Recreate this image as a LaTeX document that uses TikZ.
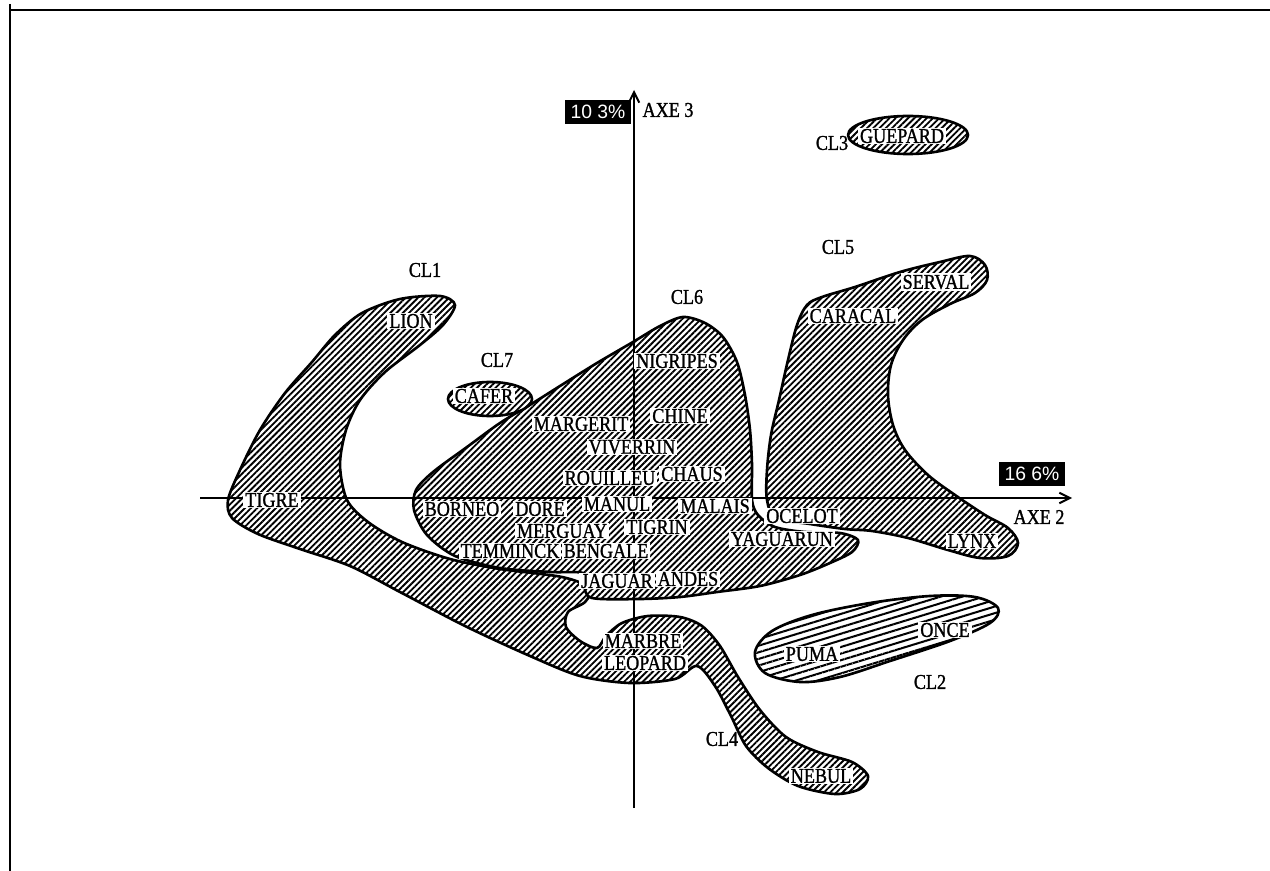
\documentclass[tikz,border=0pt]{standalone}
\usepackage{fontspec}
\setmainfont{Liberation Serif}[FakeStretch=0.86,FakeBold=1.2]
\newfontfamily\pctfont{Liberation Sans}
\usetikzlibrary{patterns.meta,arrows.meta}
\newcommand\lbfont{\fontsize{12}{12}\selectfont}
\begin{document}
\begin{tikzpicture}[x=0.02cm,y=-0.02cm,
  blob/.style={preaction={fill=white},
    pattern={Lines[angle=45,distance=2.5pt,line width=1.05pt]},
    pattern color=black, draw=black, line width=1.5pt, line join=round},
  flatblob/.style={blob,
    pattern={Lines[angle=17,distance=3.6pt,line width=1.15pt]}},
  lbl/.style={fill=white, inner xsep=1.2pt, inner ysep=0.8pt, font=\lbfont},
  tag/.style={inner sep=0pt, font=\lbfont},
  pct/.style={fill=black, text=white, inner xsep=3pt, inner ysep=3.2pt,
    font=\pctfont\fontsize{11}{11}\selectfont},
  axisline/.style={line width=1.1pt, -{Straight Barb[length=6pt,width=6pt]}}]
\useasboundingbox (0,0) rectangle (1270,871);

% page frame
\draw[line width=1.7pt] (10,10) -- (1270,10);
\draw[line width=0.7pt] (10,4) -- (10,871);

% CL5 : caracal / serval / lynx
\path[blob] plot[smooth cycle, tension=0.55] coordinates {
  (807,305) (822,297) (855,287) (900,272) (940,262) (970,256) (985,265)
  (987,280) (975,293) (950,304) (922,320) (903,340) (891,365) (888,395)
  (893,425) (905,450) (928,475) (955,495) (985,515) (1008,528) (1018,543)
  (1008,556) (980,558) (948,550) (908,538) (872,531) (845,529) (810,524)
  (776,518) (767,500) (767,470) (771,435) (779,400) (788,360) (797,325)};

% CL1 + CL4 : lion / tigre arm down to leopard and nebul
\path[blob] plot[smooth cycle, tension=0.5] coordinates {
  (455,305) (440,296) (400,299) (362,313) (335,335) (312,362) (285,393)
  (260,430) (240,470) (228,500) (232,518) (258,534) (300,549) (350,566)
  (400,592) (465,626) (530,656) (580,676) (630,683) (675,679) (697,666)
  (715,686) (731,716) (746,746) (768,768) (798,786) (835,794) (860,789)
  (868,776) (852,762) (818,752) (786,737) (760,710) (738,677) (720,646)
  (702,626) (680,617) (648,616) (622,623) (606,636) (597,648) (580,641)
  (566,627) (568,612) (585,602) (590,588) (562,577) (500,569) (450,559)
  (402,542) (368,522) (347,500) (340,465) (346,430) (360,400) (385,372)
  (420,345) (443,325)};

% CL6 : central group
\path[blob] plot[smooth cycle, tension=0.5] coordinates {
  (683,317) (705,323) (723,337) (737,362) (745,395) (750,430) (752,465)
  (752,500) (758,515) (775,527) (805,532) (840,533) (858,540) (852,552)
  (830,563) (800,575) (760,586) (717,592) (680,597) (640,599) (592,598)
  (584,585) (583,573) (550,572) (500,568) (455,556) (427,535) (414,510)
  (416,490) (433,472) (467,447) (500,423) (533,403) (560,386) (597,363)
  (633,342) (660,326)};

% CL7, CL3 : single-member groups
\path[blob] (490,399) ellipse [x radius=42, y radius=17];
\path[blob] (908,135) ellipse [x radius=60, y radius=19];

% CL2 : puma / once
\path[flatblob] plot[smooth cycle, tension=0.55] coordinates {
  (755,652) (772,631) (812,615) (870,603) (930,596) (975,597) (998,608)
  (990,623) (950,641) (890,661) (840,677) (800,682) (765,673)};

% factorial axes
\coordinate (h0) at (200,498);
\coordinate (h1) at (1072,498);
\coordinate (v0) at (634,808);
\coordinate (v1) at (634,90);
\draw[axisline] (h0) -- (h1);
\draw[axisline] (v0) -- (v1);

\node[pct] (p3) at (598,112) {10 3\%};
\node[tag] (axe3) at (668,110) {AXE 3};
\node[pct] (p2) at (1032,474) {16 6\%};
\node[tag] (axe2) at (1039,517) {AXE 2};

% group names
\node[tag] (cl1) at (425,270) {CL1};
\node[tag] (cl2) at (930,682) {CL2};
\node[tag] (cl3) at (832,143) {CL3};
\node[tag] (cl4) at (722,739) {CL4};
\node[tag] (cl5) at (838,247) {CL5};
\node[tag] (cl6) at (687,297) {CL6};
\node[tag] (cl7) at (497,360) {CL7};

% species
\node[lbl] (lion) at (411,321) {LION};
\node[lbl] (tigre) at (272,500) {TIGRE};
\node[lbl] (cafer) at (484,396) {CAFER};
\node[lbl] (guepard) at (902,136) {GUEPARD};
\node[lbl] (nigripes) at (677,361) {NIGRIPES};
\node[lbl] (margerit) at (581,424) {MARGERIT};
\node[lbl] (chine) at (680,416) {CHINE};
\node[lbl] (viverrin) at (632,447) {VIVERRIN};
\node[lbl] (rouilleu) at (610,478) {ROUILLEU};
\node[lbl] (chaus) at (692,474) {CHAUS};
\node[lbl] (borneo) at (462,509) {BORNEO};
\node[lbl] (dore) at (540,509) {DORE};
\node[lbl] (manul) at (617,504) {MANUL};
\node[lbl] (malais) at (715,506) {MALAIS};
\node[lbl] (merguay) at (562,531) {MERGUAY};
\node[lbl] (tigrin) at (657,527) {TIGRIN};
\node[lbl] (temminck) at (510,551) {TEMMINCK};
\node[lbl] (bengale) at (606,551) {BENGALE};
\node[lbl] (jaguar) at (617,581) {JAGUAR};
\node[lbl] (andes) at (688,579) {ANDES};
\node[lbl] (ocelot) at (802,516) {OCELOT};
\node[lbl] (yaguarun) at (782,539) {YAGUARUN};
\node[lbl] (lynx) at (972,541) {LYNX};
\node[lbl] (caracal) at (853,316) {CARACAL};
\node[lbl] (serval) at (936,282) {SERVAL};
\node[lbl] (marbre) at (643,641) {MARBRE};
\node[lbl] (leopard) at (645,663) {LEOPARD};
\node[lbl] (nebul) at (821,776) {NEBUL};
\node[lbl] (puma) at (812,654) {PUMA};
\node[lbl] (once) at (945,630) {ONCE};
\end{tikzpicture}
\end{document}
